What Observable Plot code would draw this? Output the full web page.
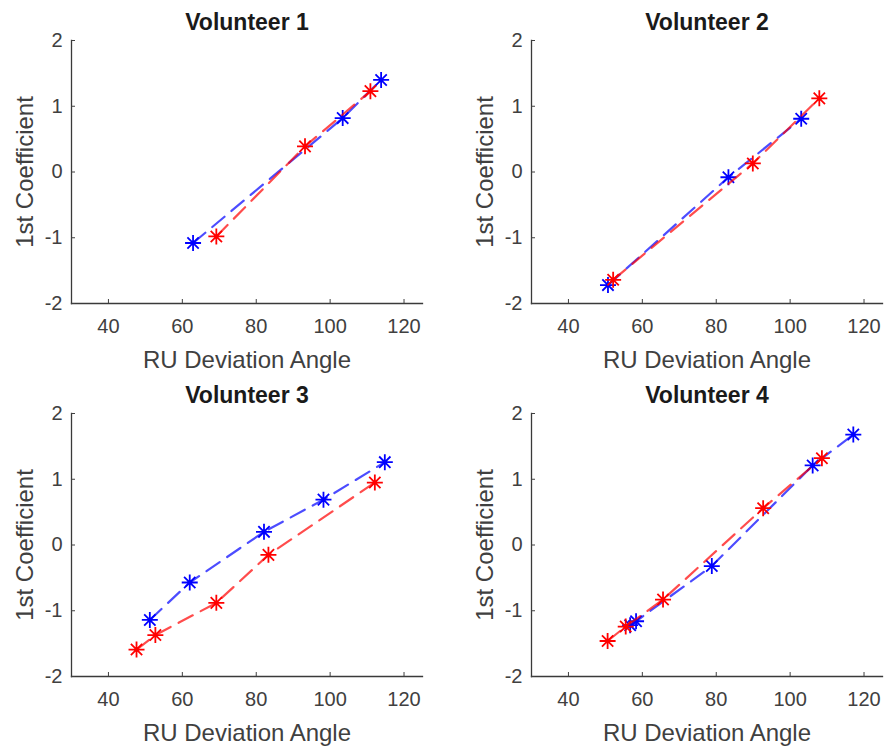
<!DOCTYPE html>
<html><head><meta charset="utf-8">
<script src="https://cdn.jsdelivr.net/npm/d3@7"></script>
<script src="https://cdn.jsdelivr.net/npm/@observablehq/plot@0.6"></script>
<style>
body{margin:0;background:#fff;}
#wrap{position:relative;width:887px;height:752px;overflow:hidden;}
.panel{position:absolute;}
</style></head><body><div id="wrap"></div>
<script>
const titles = ["Volunteer 1", "Volunteer 2", "Volunteer 3", "Volunteer 4"];
const xLabel = "RU Deviation Angle";
const yLabel = "1st Coefficient";
const xTicks = [40, 60, 80, 100, 120];
const yTicks = [-2, -1, 0, 1, 2];

const blueX = [
  [62.9, 103.4, 113.8],
  [50.7, 83.3, 103.0],
  [51.2, 62.0, 82.1, 98.2, 114.8],
  [56.7, 58.3, 78.8, 106.1, 117.1]
];
const blueY = [
  [-1.08, 0.82, 1.40],
  [-1.72, -0.08, 0.81],
  [-1.14, -0.57, 0.20, 0.69, 1.26],
  [-1.22, -1.16, -0.32, 1.21, 1.68]
];
const redX = [
  [69.2, 93.2, 110.9],
  [52.1, 89.9, 107.9],
  [47.6, 52.7, 69.2, 83.3, 112.1],
  [50.6, 55.5, 65.6, 92.7, 108.6]
];
const redY = [
  [-0.98, 0.39, 1.23],
  [-1.64, 0.13, 1.12],
  [-1.59, -1.37, -0.88, -0.15, 0.95],
  [-1.46, -1.24, -0.83, 0.56, 1.32]
];

const panelLeft = [0, 460, 0, 460];
const panelTop = [0, 0, 373, 373];

const asterisk = {
  draw(ctx, size) {
    const r = Math.sqrt(size / Math.PI);
    const d = r * Math.SQRT1_2;
    ctx.moveTo(-r, 0); ctx.lineTo(r, 0);
    ctx.moveTo(0, -r); ctx.lineTo(0, r);
    ctx.moveTo(-d, -d); ctx.lineTo(d, d);
    ctx.moveTo(-d, d); ctx.lineTo(d, -d);
  }
};

const font = "'Liberation Sans', Arial, Helvetica, sans-serif";
const textColor = "#404040";
const wrap = document.getElementById("wrap");

titles.forEach((title, i) => {
  const blue = blueX[i].map((x, j) => ({x, y: blueY[i][j]}));
  const red = redX[i].map((x, j) => ({x, y: redY[i][j]}));
  const chart = Plot.plot({
    width: 430,
    height: 376,
    marginLeft: 71,
    marginRight: 8,
    marginTop: 40,
    marginBottom: 73,
    style: {fontFamily: font, background: "white", overflow: "visible"},
    x: {domain: [30, 125]},
    y: {domain: [-2, 2]},
    marks: [
      Plot.frame({anchor: "left", stroke: "#3a3a3a", strokeWidth: 1.3}),
      Plot.frame({anchor: "bottom", stroke: "#3a3a3a", strokeWidth: 1.3}),
      Plot.axisX(xTicks, {tickSize: -4, tickPadding: 19, fontSize: 20, color: textColor, label: null, tickFormat: d => String(d)}),
      Plot.axisY(yTicks, {tickSize: -4, tickPadding: 13, fontSize: 20, color: textColor, label: null, tickFormat: d => String(d)}),
      Plot.line(blue, {x: "x", y: "y", stroke: "#0000ff", strokeWidth: 2.2, strokeOpacity: 0.7, strokeDasharray: "16,9"}),
      Plot.dot(blue, {x: "x", y: "y", r: 8, symbol: asterisk, stroke: "#0000ff", fill: "none", strokeWidth: 1.8}),
      Plot.line(red, {x: "x", y: "y", stroke: "#ff0000", strokeWidth: 2.2, strokeOpacity: 0.7, strokeDasharray: "16,9"}),
      Plot.dot(red, {x: "x", y: "y", r: 8, symbol: asterisk, stroke: "#ff0000", fill: "none", strokeWidth: 1.8}),
      Plot.text([title], {frameAnchor: "top", dy: -18, lineAnchor: "middle", fontSize: 23, fontWeight: "bold", fill: "#1a1a1a"}),
      Plot.text([xLabel], {frameAnchor: "bottom", dy: 57, lineAnchor: "middle", fontSize: 24, fill: textColor}),
      Plot.text([yLabel], {frameAnchor: "left", dx: -46, rotate: -90, textAnchor: "middle", lineAnchor: "middle", fontSize: 24, fill: textColor})
    ]
  });
  chart.classList.add("panel");
  chart.style.left = panelLeft[i] + "px";
  chart.style.top = panelTop[i] + "px";
  wrap.appendChild(chart);
});
</script></body></html>
